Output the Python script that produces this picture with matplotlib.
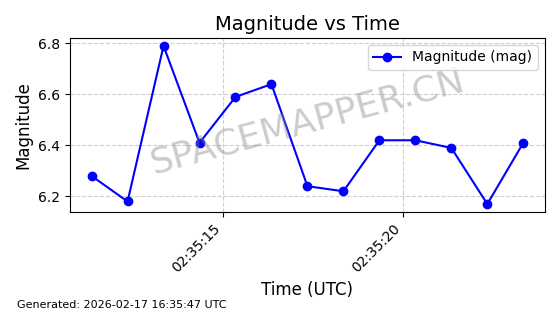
import datetime as dt
import matplotlib
matplotlib.use("Agg")
import matplotlib.pyplot as plt
import matplotlib.dates as mdates

# observation times (seconds after 02:35:00) and magnitudes
seconds = [11.34, 12.34, 13.34, 14.34, 15.34, 16.34, 17.34, 18.34, 19.34, 20.34, 21.34, 22.34, 23.34]
magnitude = [6.28, 6.18, 6.79, 6.41, 6.59, 6.64, 6.24, 6.22, 6.42, 6.42, 6.39, 6.17, 6.41]

base = dt.datetime(2026, 2, 17, 2, 35, 0)
times = [base + dt.timedelta(seconds=s) for s in seconds]

fig, ax = plt.subplots(figsize=(5.6, 3.14), dpi=100)
ax.plot(times, magnitude, color='blue', marker='o', label='Magnitude (mag)')
ax.set_title('Magnitude vs Time', fontsize=14)
ax.set_xlabel('Time (UTC)', fontsize=12)
ax.set_ylabel('Magnitude', fontsize=12)
ax.grid(True, linestyle='--', alpha=0.6)
ax.legend(loc='upper right')
ax.xaxis.set_major_locator(mdates.SecondLocator(bysecond=range(0, 60, 5)))
ax.xaxis.set_major_formatter(mdates.DateFormatter('%H:%M:%S'))
plt.setp(ax.get_xticklabels(), rotation=45, ha='right')

ax.text(0.5, 0.52, 'SPACEMAPPER.CN', transform=ax.transAxes, fontsize=26,
        color='gray', alpha=0.4, ha='center', va='center', rotation=15)

fig.text(0.03, 0.02, 'Generated: 2026-02-17 16:35:47 UTC', fontsize=8)

fig.subplots_adjust(left=0.125, right=0.973, top=0.879, bottom=0.325)
fig.savefig('out.png', dpi=100)
